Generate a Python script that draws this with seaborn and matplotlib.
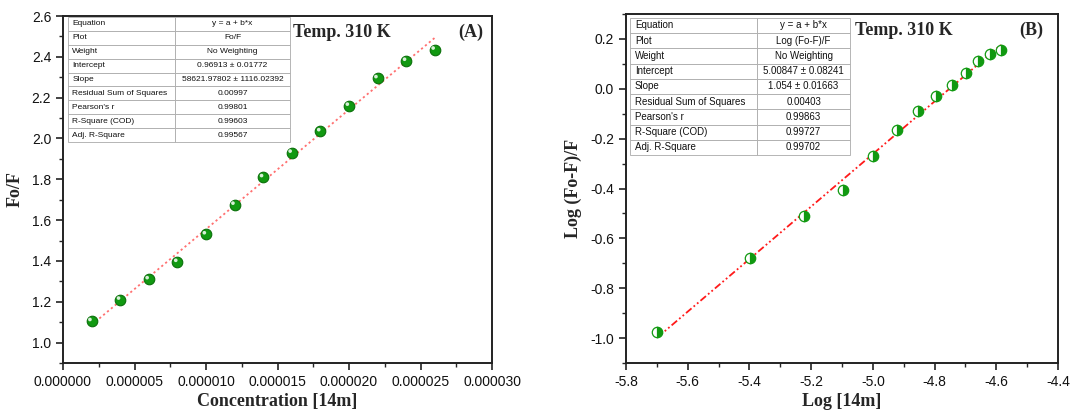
import numpy as np
import pandas as pd
import matplotlib
matplotlib.use("Agg")
import matplotlib.pyplot as plt
import matplotlib.transforms as mtransforms
from matplotlib.ticker import MultipleLocator, FormatStrFormatter
import seaborn as sns

# ---------------- data ----------------
conc = [2e-6, 4e-6, 6e-6, 8e-6, 10e-6, 12e-6, 14e-6, 16e-6, 18e-6, 20e-6, 22e-6, 24e-6, 26e-6]
fo_f = [1.105, 1.21, 1.31, 1.395, 1.53, 1.675, 1.81, 1.93, 2.035, 2.16, 2.295, 2.38, 2.435]

log_conc = [-5.699, -5.398, -5.222, -5.097, -5.0, -4.921, -4.854, -4.796, -4.745, -4.699, -4.658, -4.620, -4.585]
log_fof = [-0.975, -0.68, -0.51, -0.405, -0.27, -0.165, -0.09, -0.03, 0.015, 0.065, 0.11, 0.14, 0.155]

fit_A = (0.96913, 58621.97802)
fit_B = (5.00847, 1.054)

table_keys = ["Equation", "Plot", "Weight", "Intercept", "Slope",
              "Residual Sum of Squares", "Pearson's r", "R-Square (COD)", "Adj. R-Square"]
table_A = ["y = a + b*x", "Fo/F", "No Weighting", "0.96913 \u00b1 0.01772",
           "58621.97802 \u00b1 1116.02392", "0.00997", "0.99801", "0.99603", "0.99567"]
table_B = ["y = a + b*x", "Log (Fo-F)/F", "No Weighting", "5.00847 \u00b1 0.08241",
           "1.054 \u00b1 0.01663", "0.00403", "0.99863", "0.99727", "0.99702"]

xticks_A = [0.0, 0.000005, 0.000010, 0.000015, 0.000020, 0.000025, 0.000030]
yticks_A = [1.0, 1.2, 1.4, 1.6, 1.8, 2.0, 2.2, 2.4, 2.6]
xticks_B = [-5.8, -5.6, -5.4, -5.2, -5.0, -4.8, -4.6, -4.4]
yticks_B = [-1.0, -0.8, -0.6, -0.4, -0.2, 0.0, 0.2]

# ---------------- style ----------------
sns.set_theme(style="ticks")
plt.rcParams["font.family"] = ["Liberation Sans", "DejaVu Sans"]
SERIF = ["Liberation Serif", "DejaVu Serif"]

fig = plt.figure(figsize=(10.7, 4.12), dpi=100)
axA = fig.add_axes([63/1070, 49/412, (492-63)/1070, (363-16)/412])
axB = fig.add_axes([626/1070, 49/412, (1058-626)/1070, (363-14)/412])

dfA = pd.DataFrame({"x": conc, "y": fo_f})
dfB = pd.DataFrame({"x": log_conc, "y": log_fof})

# fit lines
xa = np.array([min(conc), max(conc)])
fitA = pd.DataFrame({"x": xa, "y": fit_A[0] + fit_A[1] * xa})
xb = np.array([min(log_conc), max(log_conc)])
fitB = pd.DataFrame({"x": xb, "y": fit_B[0] + fit_B[1] * xb})

sns.lineplot(data=fitA, x="x", y="y", ax=axA, color="#ff7070", lw=1.3,
             linestyle=(0, (1.2, 1.6)), zorder=2)
sns.lineplot(data=fitB, x="x", y="y", ax=axB, color="#ff1a1a", lw=1.3,
             linestyle=(0, (4, 1.5, 1, 1.5, 1, 1.5)), zorder=2)

# panel A: shaded spheres
sns.scatterplot(data=dfA, x="x", y="y", ax=axA, s=58, color="#119911",
                edgecolor="#0a700a", linewidth=0.8, zorder=3)
off = mtransforms.offset_copy(axA.transData, fig=fig, x=-1.2, y=1.2, units="points")
axA.scatter(dfA["x"], dfA["y"], s=7, color="#d8f0d8", edgecolor="none",
            transform=off, zorder=4)

# panel B: half-filled circles
axB.plot(dfB["x"], dfB["y"], linestyle="none", marker="o", markersize=7.5,
         fillstyle="right", markerfacecolor="#119911", markerfacecoloralt="white",
         markeredgecolor="#119911", markeredgewidth=0.9, zorder=3)

# ---------------- axes formatting ----------------
for ax in (axA, axB):
    for s in ax.spines.values():
        s.set_visible(True)
        s.set_linewidth(1.4)
        s.set_color("#222222")
    ax.tick_params(which="major", direction="out", length=5, width=1.2,
                   labelsize=10, colors="#222222", top=False, right=False)
    ax.tick_params(which="minor", direction="out", length=3, width=1.0,
                   top=False, right=False)
    ax.tick_params(axis="both", labelcolor="#111111")

axA.set_xlim(0.0, 0.000030)
axA.set_ylim(0.9, 2.6)
axA.set_xticks(xticks_A)
axA.set_yticks(yticks_A)
axA.xaxis.set_major_formatter(FormatStrFormatter("%.6f"))
axA.yaxis.set_major_formatter(FormatStrFormatter("%.1f"))
axA.xaxis.set_minor_locator(MultipleLocator(0.0000025))
axA.yaxis.set_minor_locator(MultipleLocator(0.1))
axA.set_xlabel("Concentration [14m]", family=SERIF, fontweight="bold", fontsize=13, labelpad=3)
axA.set_ylabel("Fo/F", family=SERIF, fontweight="bold", fontsize=13, labelpad=6)

axB.set_xlim(-5.8, -4.4)
axB.set_ylim(-1.1, 0.3)
axB.set_xticks(xticks_B)
axB.set_yticks(yticks_B)
axB.xaxis.set_major_formatter(FormatStrFormatter("%.1f"))
axB.yaxis.set_major_formatter(FormatStrFormatter("%.1f"))
axB.xaxis.set_minor_locator(MultipleLocator(0.1))
axB.yaxis.set_minor_locator(MultipleLocator(0.1))
axB.set_xlabel("Log [14m]", family=SERIF, fontweight="bold", fontsize=13, labelpad=3)
axB.set_ylabel("Log (Fo-F)/F", family=SERIF, fontweight="bold", fontsize=13, labelpad=6)

# panel labels
axA.text(0.537, 0.952, "Temp. 310 K", transform=axA.transAxes, family=SERIF,
         fontweight="bold", fontsize=13, ha="left", va="center")
axA.text(0.98, 0.952, "(A)", transform=axA.transAxes, family=SERIF,
         fontweight="bold", fontsize=13, ha="right", va="center")
axB.text(0.53, 0.952, "Temp. 310 K", transform=axB.transAxes, family=SERIF,
         fontweight="bold", fontsize=13, ha="left", va="center")
axB.text(0.965, 0.952, "(B)", transform=axB.transAxes, family=SERIF,
         fontweight="bold", fontsize=13, ha="right", va="center")

# fit tables
def add_table(ax, vals, bbox, colfrac, fs):
    cells = [[k, v] for k, v in zip(table_keys, vals)]
    tb = ax.table(cellText=cells, colWidths=[colfrac, 1 - colfrac],
                  cellLoc="left", bbox=bbox, zorder=5)
    tb.auto_set_font_size(False)
    for (r, c), cell in tb.get_celld().items():
        cell.set_edgecolor("#aaaaaa")
        cell.set_linewidth(0.6)
        cell.set_facecolor("white")
        cell.get_text().set_fontsize(fs)
        cell.get_text().set_color("#111111")
        if c == 1:
            cell.get_text().set_horizontalalignment("center")
            cell._loc = "center"
        cell.PAD = 0.04
    return tb

add_table(axA, table_A, [0.012, 0.637, 0.517, 0.36], 0.482, 6.0)
add_table(axB, table_B, [0.009, 0.596, 0.51, 0.393], 0.577, 7.0)

fig.savefig("out.png", dpi=100)
